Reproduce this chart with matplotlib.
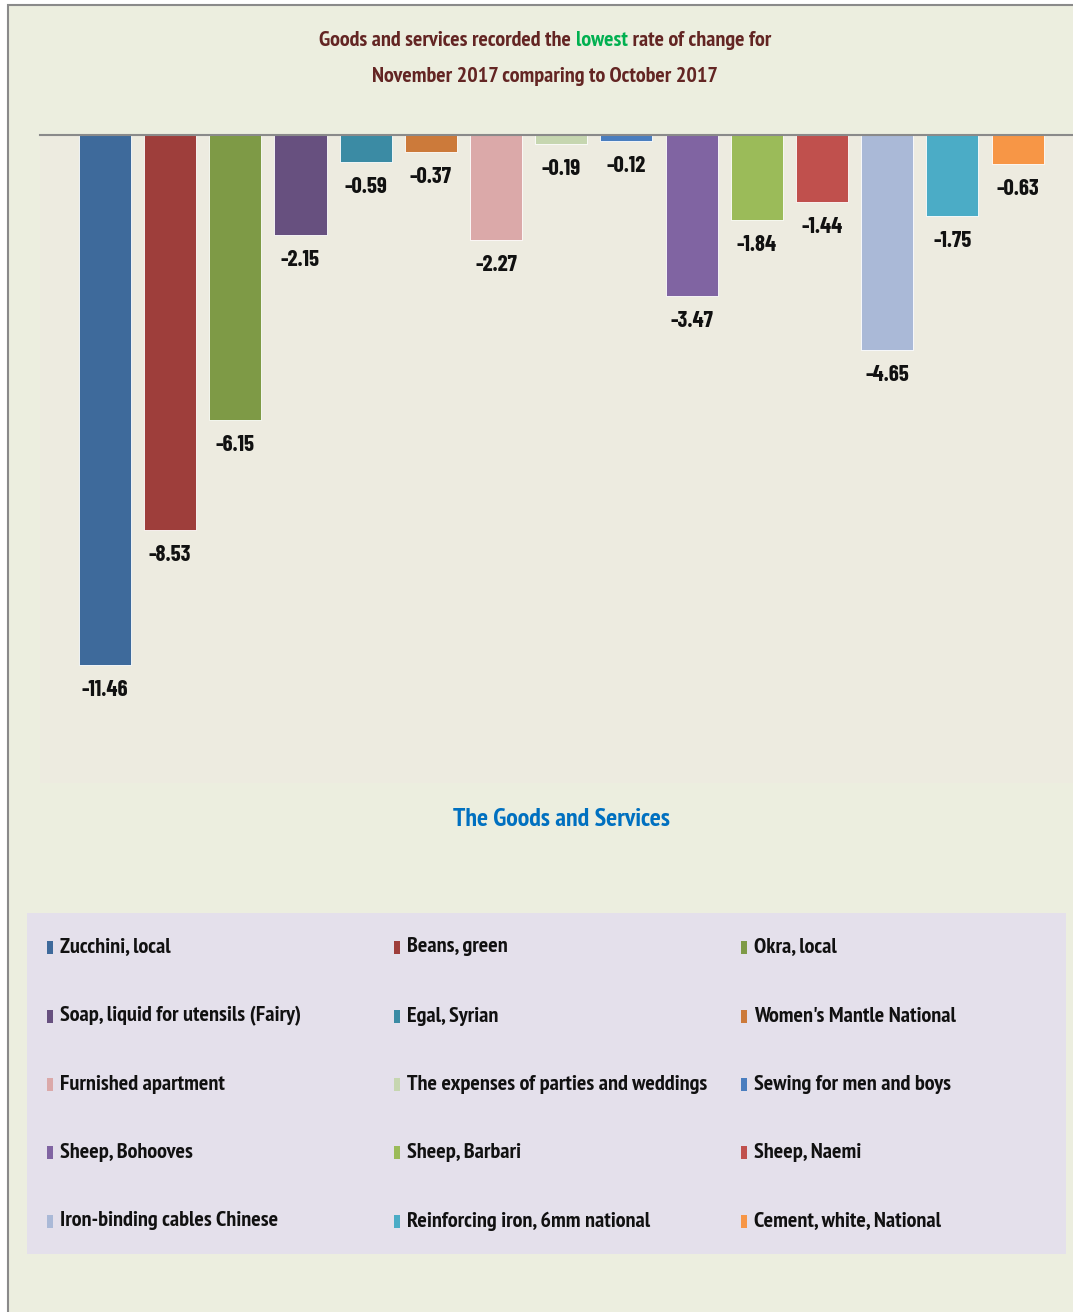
import matplotlib.pyplot as plt
from matplotlib.patches import Rectangle
from matplotlib.textpath import TextPath
import matplotlib.font_manager as fm

# Data
categories = ["Zucchini, local", "Beans, green", "Okra, local",
              "Soap, liquid for utensils (Fairy)", "Egal, Syrian", "Women's Mantle National",
              "Furnished apartment", "The expenses of parties and weddings", "Sewing for men and boys",
              "Sheep, Bohooves", "Sheep, Barbari", "Sheep, Naemi",
              "Iron-binding cables Chinese", "Reinforcing iron, 6mm national", "Cement, white, National"]
values = [-11.46, -8.53, -6.15, -2.15, -0.59, -0.37, -2.27, -0.19, -0.12,
          -3.47, -1.84, -1.44, -4.65, -1.75, -0.63]
colors = ["#3E6A9B", "#9E3E3B", "#7E9A46", "#67507F", "#3B8BA4", "#CC7A3A",
          "#DBA9A9", "#C6D6B0", "#4A7EBF", "#8064A2", "#9BBB59", "#C0504D",
          "#AAB9D7", "#4BACC6", "#F79646"]


def _w(v):
    return fm.weight_dict.get(v, 400) if isinstance(v, str) else v


# condensed fonts to try; the one whose shape fits the reference text best is used
bold_names = {f.name for f in fm.fontManager.ttflist if _w(f.weight) >= 600}
all_names = {f.name for f in fm.fontManager.ttflist}
candidates = ["Liberation Sans Narrow", "Arial Narrow", "Archivo Narrow", "Pragati Narrow",
              "PT Sans Narrow", "Roboto Condensed", "Barlow Condensed", "Barlow Semi Condensed",
              "Oswald", "Sofia Sans Condensed", "Sofia Sans Extra Condensed",
              "Saira Condensed", "Saira Extra Condensed", "Fira Sans Condensed",
              "Fira Sans Extra Condensed", "Asap Condensed", "Encode Sans Condensed",
              "Encode Sans Compressed", "IBM Plex Sans Condensed", "Open Sans Condensed",
              "Antonio", "Pathway Gothic One"]
candidates = ([c for c in candidates if c in bold_names]
              or [c for c in candidates if c in all_names] or ["DejaVu Sans"])


def pick_font(sample, target_w, target_cap):
    # returns (family, size in pt) so the text is about target_w px wide, target_cap px cap height
    best = None
    for fam in candidates:
        fp = fm.FontProperties(family=fam, weight="bold")
        cap = TextPath((0, 0), "H", size=100, prop=fp).get_extents().height / 100
        size_px = target_cap / cap
        w = TextPath((0, 0), sample, size=size_px, prop=fp).get_extents().width
        err = abs(w - target_w) / target_w
        if best is None or err < best[0]:
            best = (err, fam, size_px, w)
    _, fam, size_px, w = best
    size_px = size_px * (target_w / w) ** 0.9
    return fam, size_px * 0.72


W, H = 1073, 1312
fig = plt.figure(figsize=(W / 100, H / 100), dpi=100)
fig.patch.set_facecolor("white")

# outer chart area with gray border (left/top visible)
fig.patches.append(Rectangle((8 / W, -0.01), 1.0, 1.01 - 5 / H, transform=fig.transFigure,
                             facecolor="#ECEEDF", edgecolor="#8A8A8A", linewidth=1.5, zorder=-10))

# plot area
ax = fig.add_axes([40 / W, 1 - 783 / H, (W - 40) / W, (783 - 135) / H])
ax.set_facecolor("#EDEBE0")
x = list(range(len(values)))
ax.bar(x, values, width=0.8, color=colors, edgecolor="white", linewidth=0.6, zorder=2)
ax.set_xlim(-0.995, 14.85)
ax.set_ylim(-14.0, 0)
for s in ["left", "right", "bottom"]:
    ax.spines[s].set_visible(False)
ax.spines["top"].set_color("#8A8A8A")
ax.spines["top"].set_linewidth(1.5)
ax.set_xticks([])
ax.set_yticks([])

lab_fam, lab_size = pick_font("-11.46", 45, 18)
for xi, v in zip(x, values):
    ax.annotate(f"{v:.2f}", (xi, v), xytext=(0, -18), textcoords="offset points",
                ha="center", va="center", fontsize=lab_size, fontweight="bold",
                family=[lab_fam, "DejaVu Sans"], color="#111111")

# title in two colours
title_color = "#632523"
t_fam, t_size = pick_font("Goods and services recorded the lowest rate of change for", 441, 19)
parts = [("Goods and services recorded the ", title_color), ("lowest", "#00B050"),
         (" rate of change for", title_color)]
txts = [fig.text(0, 1 - 40 / H, p, color=c, fontsize=t_size, fontweight="bold",
                 family=[t_fam, "DejaVu Sans"], ha="left", va="center") for p, c in parts]
r = fig.canvas.get_renderer()
widths = [t.get_window_extent(r).width for t in txts]
start = 545 - sum(widths) / 2
for t, w in zip(txts, widths):
    t.set_x(start / W)
    start += w
fig.text(545 / W, 1 - 77 / H, "November 2017 comparing to October 2017", color=title_color,
         fontsize=t_size, fontweight="bold", family=[t_fam, "DejaVu Sans"],
         ha="center", va="center")

# axis title
a_fam, a_size = pick_font("The Goods and Services", 213, 21)
fig.text(561 / W, 1 - 820 / H, "The Goods and Services", color="#0070C0",
         fontsize=a_size, fontweight="bold", family=[a_fam, "DejaVu Sans"],
         ha="center", va="center")

# legend box
fig.patches.append(Rectangle((27 / W, 1 - 1254 / H), (1066 - 27) / W, (1254 - 913) / H,
                             transform=fig.transFigure, facecolor="#E4E0EB", edgecolor="none", zorder=1))
l_fam, l_size = pick_font("The expenses of parties and weddings", 297, 17.5)
col_x = [47, 394, 741]
row_y = [947, 1016, 1084, 1152, 1221]
for i, (name, c) in enumerate(zip(categories, colors)):
    cx = col_x[i % 3]
    cy = row_y[i // 3]
    fig.patches.append(Rectangle((cx / W, 1 - (cy + 7) / H), 6 / W, 13 / H,
                                 transform=fig.transFigure, facecolor=c, edgecolor="none", zorder=2))
    fig.text((cx + 13) / W, 1 - cy / H, name, fontsize=l_size, fontweight="bold",
             family=[l_fam, "DejaVu Sans"], color="#111111", ha="left", va="center", zorder=3)

fig.savefig("out.png", dpi=100)
